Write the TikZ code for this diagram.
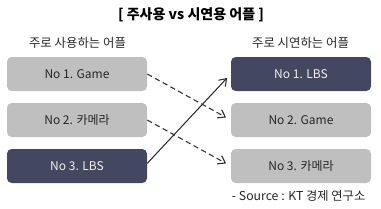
\documentclass[tikz,border=0pt]{standalone}
\usepackage{fontspec}
\setmainfont{Noto Sans CJK KR}
\usepackage{xcolor}
\definecolor{appGray}{RGB}{191, 191, 191}
\definecolor{appNavy}{RGB}{68, 71, 96}
\definecolor{lineDark}{RGB}{45, 45, 45}
\usetikzlibrary{arrows.meta}

\begin{document}
\begin{tikzpicture}[x=0.75pt, y=-0.75pt,
  app/.style={rounded corners=3.5pt, fill=appGray, minimum width=105pt,
              minimum height=25.5pt, inner sep=0pt, font=\fontsize{9}{11}\selectfont,
              text=black!85},
  top/.style={app, fill=appNavy, text=white!92!appNavy},
  hdr/.style={font=\fontsize{9.3}{11}\selectfont, text=black!85},
  arr/.style={-{Straight Barb[length=5pt,width=7pt]}, line width=0.8pt, draw=lineDark,
              shorten >=4pt},
  dsh/.style={arr, dash pattern=on 4pt off 2.6pt}
]
\useasboundingbox (0,0) rectangle (381,208);

%% title and column heads
\node[font=\fontsize{10.5}{12}\selectfont\bfseries] (title) at (191,15) {[ 주사용 vs 시연용 어플 ]};
\node[hdr] (lhead) at (77.5,43) {주로 사용하는 어플};
\node[hdr] (rhead) at (300.5,43) {주로 시연하는 어플};

%% left column
\node[app] (l1) at (77,74)  {No 1. Game};
\node[app] (l2) at (77,120) {No 2. 카메라};
\node[top] (l3) at (77,166) {No 3. LBS};

%% right column
\node[top] (r1) at (301,74)  {No 1. LBS};
\node[app] (r2) at (301,120) {No 2. Game};
\node[app] (r3) at (301,166) {No 3. 카메라};

%% links
\draw[dsh] (l1.east) -- (r2.west);
\draw[dsh] (l2.east) -- (r3.west);
\draw[arr] ([yshift=2pt]l3.east) -- (r1.west);

\node[font=\fontsize{9.2}{10}\selectfont, anchor=east, text=black!85] (src) at (370,196)
  {- Source : KT 경제 연구소};
\end{tikzpicture}
\end{document}
